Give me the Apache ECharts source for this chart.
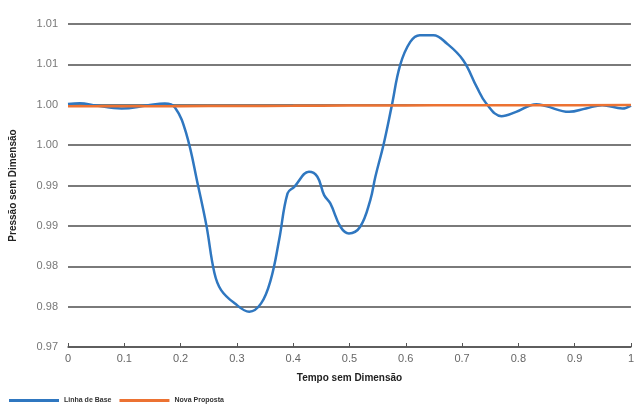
<!DOCTYPE html>
<html>
<head>
<meta charset="utf-8">
<script src="https://cdn.jsdelivr.net/npm/echarts@6/dist/echarts.min.js"></script>
<style>html,body{margin:0;padding:0;background:#fff}#c{width:637px;height:409px}</style>
</head>
<body>
<div id="c"></div>
<script>
// Linha de Base: [tempo, pressão]
const baseT = [0, 0.021, 0.05, 0.095, 0.14, 0.172, 0.19, 0.21, 0.231, 0.246, 0.26, 0.272, 0.296, 0.322, 0.343, 0.36, 0.375, 0.39, 0.402, 0.428, 0.443, 0.455, 0.466, 0.484, 0.499, 0.519, 0.537, 0.546, 0.561, 0.575, 0.59, 0.608, 0.625, 0.649, 0.673, 0.702, 0.726, 0.743, 0.77, 0.796, 0.832, 0.849, 0.89, 0.92, 0.949, 0.985, 1.0];
const baseV = [1.0001, 1.0002, 0.9999, 0.99954, 0.9999, 1.00016, 0.99967, 0.99645, 0.99, 0.985, 0.9792, 0.97705, 0.97541, 0.97437, 0.9754, 0.97829, 0.98324, 0.98902, 0.98984, 0.99169, 0.99108, 0.98881, 0.98778, 0.98489, 0.98407, 0.98489, 0.9882, 0.99108, 0.99521, 0.99983, 1.0049, 1.00778, 1.00861, 1.00861, 1.00758, 1.00552, 1.00222, 1.00016, 0.99859, 0.99912, 1.00007, 0.99983, 0.99912, 0.99954, 0.99995, 0.99954, 0.9999];
// Nova Proposta
const novaT = [0, 0.1, 0.2, 0.3, 0.4, 0.5, 0.6, 0.7, 0.8, 0.9, 1.0];
const novaV = [0.9998, 0.9998, 0.99982, 0.99985, 0.99987, 0.9999, 0.99992, 0.99994, 0.99995, 0.99995, 0.99996];
const yTickLabels = ["0.97", "0.98", "0.98", "0.99", "0.99", "1.00", "1.00", "1.01", "1.01"];
const xTickLabels = ["0", "0.1", "0.2", "0.3", "0.4", "0.5", "0.6", "0.7", "0.8", "0.9", "1"];

const chart = echarts.init(document.getElementById('c'));
chart.setOption({
  animation: false,
  grid: { left: 66, right: 4, top: 24, bottom: 62 },
  legend: {
    left: 4, top: 392, itemWidth: 50, itemHeight: 3, itemGap: 8,
    icon: 'rect',
    textStyle: { fontSize: 7, fontWeight: 'bold', color: '#333', fontFamily: 'Liberation Sans' },
    data: ['Linha de Base', 'Nova Proposta']
  },
  xAxis: {
    type: 'value', min: 0, max: 1, interval: 0.1,
    name: 'Tempo sem Dimensão', nameLocation: 'middle', nameGap: 26,
    nameTextStyle: { fontSize: 10, fontWeight: 'bold', color: '#222', fontFamily: 'Liberation Sans' },
    axisLine: { lineStyle: { color: '#555', width: 1.5 } },
    axisTick: { inside: true, length: 4, lineStyle: { color: '#555' } },
    splitLine: { show: false },
    axisLabel: { fontSize: 11, color: '#666', margin: 6, fontFamily: 'Liberation Sans',
      formatter: v => xTickLabels[Math.round(v * 10)] }
  },
  yAxis: {
    type: 'value', min: 0.97, max: 1.01, interval: 0.005,
    name: 'Pressão sem Dimensão', nameLocation: 'middle', nameGap: 50,
    nameTextStyle: { fontSize: 10, fontWeight: 'bold', color: '#222', fontFamily: 'Liberation Sans' },
    axisLine: { show: false }, axisTick: { show: false },
    splitLine: { lineStyle: { color: '#7a7a7a', width: 1.8 } },
    axisLabel: { fontSize: 11, color: '#777', margin: 10, fontFamily: 'Liberation Sans',
      formatter: v => yTickLabels[Math.round((v - 0.97) / 0.005)] }
  },
  series: [
    { name: 'Linha de Base', type: 'line', smooth: 0.4, showSymbol: false,
      data: baseT.map((t, i) => [t, baseV[i]]),
      lineStyle: { color: '#2f77c0', width: 2.5 }, itemStyle: { color: '#2f77c0' }, z: 3 },
    { name: 'Nova Proposta', type: 'line', smooth: true, showSymbol: false,
      data: novaT.map((t, i) => [t, novaV[i]]),
      lineStyle: { color: '#ec7232', width: 2.5 }, itemStyle: { color: '#ec7232' }, z: 4 }
  ]
});
</script>
</body>
</html>
